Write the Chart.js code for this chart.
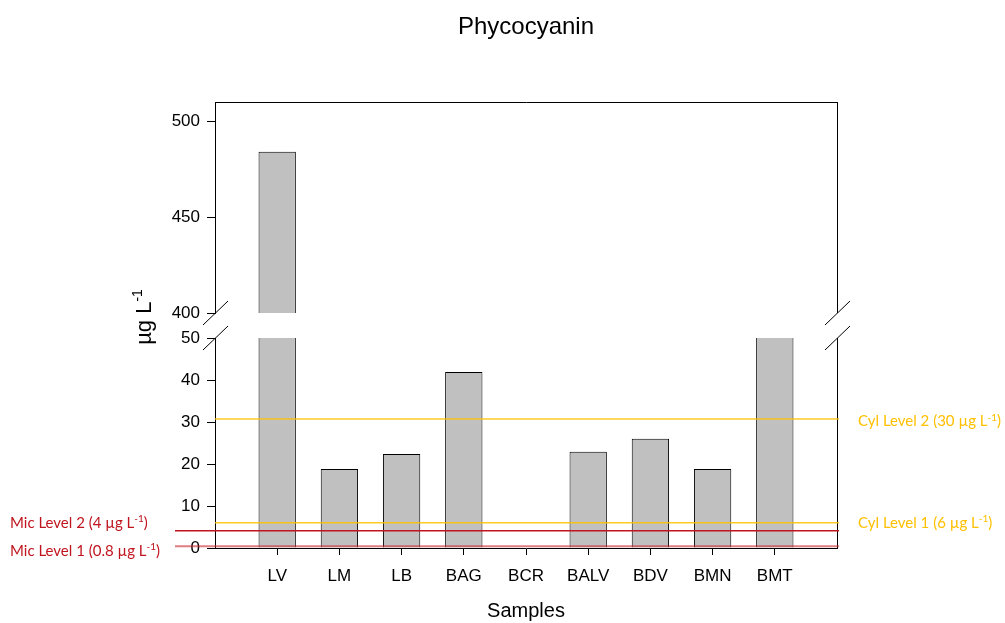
<!DOCTYPE html>
<html>
<head>
<meta charset="utf-8">
<script src="https://cdn.jsdelivr.net/npm/chart.js@4.4.1/dist/chart.umd.min.js"></script>
<style>
    body { margin: 0; background: #fff; }
    #wrap { width: 1005px; height: 623px; }
</style>
</head>
<body>
<div id="wrap"><canvas id="pcChart" width="1005" height="623"></canvas></div>
<script>
// ========== DATA ==========
const samples = ['LV', 'LM', 'LB', 'BAG', 'BCR', 'BALV', 'BDV', 'BMN', 'BMT'];
const phycocyanin = [484, 18.8, 22.4, 41.9, 0, 22.9, 26, 18.8, 60];
const lowTicks = [0, 10, 20, 30, 40, 50];
const highTicks = [400, 450, 500];
const cylLevels = [30.7, 6];
const cylLabels = ['Cyl Level 2 (30 µg L^{-1})', 'Cyl Level 1 (6 µg L^{-1})'];
const micLevels = [4.1, 0.4];
const micLabels = ['Mic Level 2 (4 µg L^{-1})', 'Mic Level 1 (0.8 µg L^{-1})'];

const FONT = "'Liberation Sans', Arial, sans-serif";
const NOTE_FONT = "Lato, 'Open Sans', sans-serif";

Chart.defaults.font.family = FONT;
Chart.defaults.color = '#000';

// empty slot at each end so the categories sit one step in from the frame
const labels = ['', ...samples, ''];
const barData = [null, ...phycocyanin, null];

// ========== HELPERS ==========

// text with ^{...} parts drawn as superscript
function drawRichText(ctx, text, x, y, size, family, align) {
    const parts = text.split(/\^\{([^}]*)\}/);
    const supSize = Math.round(size * 0.65);
    let total = 0;
    parts.forEach((p, i) => {
        ctx.font = `${i % 2 ? supSize : size}px ${family}`;
        total += ctx.measureText(p).width;
    });
    let cx = align === 'center' ? x - total / 2 : x;
    const base = y + size * 0.35;
    ctx.textAlign = 'left';
    ctx.textBaseline = 'alphabetic';
    parts.forEach((p, i) => {
        const sup = i % 2 === 1;
        ctx.font = `${sup ? supSize : size}px ${family}`;
        ctx.fillText(p, cx, sup ? base - size * 0.38 : base);
        cx += ctx.measureText(p).width;
    });
}

function line(ctx, x1, y1, x2, y2) {
    ctx.beginPath();
    ctx.moveTo(x1, y1);
    ctx.lineTo(x2, y2);
    ctx.stroke();
}

// ========== PLUGINS ==========

// clip each dataset to its own piece of the broken axis
const axisClip = {
    id: 'axisClip',
    beforeDatasetDraw(chart, args) {
        const ys = args.meta.yScale;
        const a = chart.chartArea;
        chart.ctx.save();
        chart.ctx.beginPath();
        chart.ctx.rect(a.left, ys.top, a.right - a.left, ys.bottom - ys.top);
        chart.ctx.clip();
    },
    afterDatasetDraw(chart) {
        chart.ctx.restore();
    }
};

// frame, break marks, level lines and notes
const decorations = {
    id: 'decorations',
    afterDatasetsDraw(chart) {
        const ctx = chart.ctx;
        const a = chart.chartArea;
        const lo = chart.scales.yLo;
        const hi = chart.scales.yHi;
        const L = Math.round(a.left) + 0.5;
        const R = Math.round(a.right) + 0.5;

        ctx.save();
        ctx.strokeStyle = '#000';
        ctx.lineWidth = 1;
        line(ctx, L, Math.round(hi.top) + 0.5, R, Math.round(hi.top) + 0.5);
        line(ctx, R, hi.top, R, hi.bottom);
        line(ctx, R, lo.top, R, lo.bottom);

        // break marks
        [L, R].forEach(x => {
            [hi.bottom, lo.top].forEach(y => {
                line(ctx, x - 12.5, y + 12, x + 12.5, y - 12);
            });
        });

        // Cyl levels (yellow)
        cylLevels.forEach((v, i) => {
            const y = lo.getPixelForValue(v);
            ctx.strokeStyle = 'rgba(255, 192, 0, 0.85)';
            ctx.lineWidth = 1.5;
            line(ctx, a.left, y, a.right + 2, y);
            ctx.fillStyle = '#FFC000';
            drawRichText(ctx, cylLabels[i], a.right + 21, y + (i === 0 ? 2 : 0), 15, NOTE_FONT, 'left');
        });

        // Mic levels (red)
        const micColors = ['#C0151F', 'rgba(200, 40, 50, 0.6)'];
        const micOffsets = [-8, 4];
        micLevels.forEach((v, i) => {
            const y = lo.getPixelForValue(v);
            ctx.strokeStyle = micColors[i];
            ctx.lineWidth = i === 0 ? 1.5 : 2;
            line(ctx, a.left - 40, y, a.right + 2, y);
            ctx.fillStyle = '#C0151F';
            drawRichText(ctx, micLabels[i], 10, y + micOffsets[i], 15, NOTE_FONT, 'left');
        });

        // y axis title
        ctx.fillStyle = '#000';
        ctx.translate(143, 317);
        ctx.rotate(-Math.PI / 2);
        drawRichText(ctx, 'µg L^{-1}', 0, 0, 22, FONT, 'center');
        ctx.restore();
    }
};

// ========== CHART ==========

function yAxis(weight, min, max, ticks) {
    return {
        type: 'linear',
        position: 'left',
        stack: 'y',
        stackWeight: weight,
        min: min,
        max: max,
        afterFit: s => { s.width = 215; },
        afterBuildTicks: s => { s.ticks = ticks.map(v => ({ value: v })); },
        grid: { drawOnChartArea: false, drawTicks: true, tickLength: 8, tickColor: '#000' },
        border: { display: true, color: '#000', width: 1 },
        ticks: { color: '#000', padding: 7, font: { size: 17 } }
    };
}

const barStyle = {
    backgroundColor: '#C0C0C0',
    borderColor: '#000',
    borderWidth: 1,
    borderSkipped: 'start',
    barPercentage: 0.6,
    categoryPercentage: 1,
    grouped: false,
    clip: false
};

const ctx = document.getElementById('pcChart').getContext('2d');
const pcChart = new Chart(ctx, {
    type: 'bar',
    data: {
        labels: labels,
        datasets: [
            Object.assign({ data: barData, yAxisID: 'yLo' }, barStyle),
            Object.assign({ data: barData, yAxisID: 'yHi' }, barStyle)
        ]
    },
    options: {
        responsive: false,
        animation: false,
        layout: { padding: { left: 0, right: 168, top: 0, bottom: 0 } },
        plugins: {
            legend: { display: false },
            tooltip: { enabled: false },
            title: {
                display: true,
                text: 'Phycocyanin',
                fullSize: false,
                color: '#000',
                font: { size: 24, weight: 'normal', lineHeight: 1 },
                padding: { top: 15, bottom: 63 }
            }
        },
        scales: {
            x: {
                type: 'category',
                offset: false,
                afterFit: s => { s.height = 75; },
                grid: {
                    offset: false,
                    drawOnChartArea: false,
                    drawTicks: true,
                    tickLength: 7,
                    tickColor: c => (c.index === 0 || c.index === labels.length - 1) ? 'rgba(0,0,0,0)' : '#000'
                },
                border: { display: true, color: '#000', width: 1 },
                ticks: { color: '#000', padding: 11, autoSkip: false, maxRotation: 0, font: { size: 17 } },
                title: {
                    display: true,
                    text: 'Samples',
                    color: '#000',
                    font: { size: 20 },
                    padding: { top: 0, bottom: 0 }
                }
            },
            yLo: yAxis(210, 0, 50, lowTicks),
            yGap: {
                type: 'linear',
                position: 'left',
                stack: 'y',
                stackWeight: 25,
                min: 50,
                max: 400,
                afterFit: s => { s.width = 215; },
                grid: { display: false },
                border: { display: false },
                ticks: { display: false }
            },
            yHi: yAxis(211, 400, 510, highTicks)
        }
    },
    plugins: [axisClip, decorations]
});
</script>
</body>
</html>
